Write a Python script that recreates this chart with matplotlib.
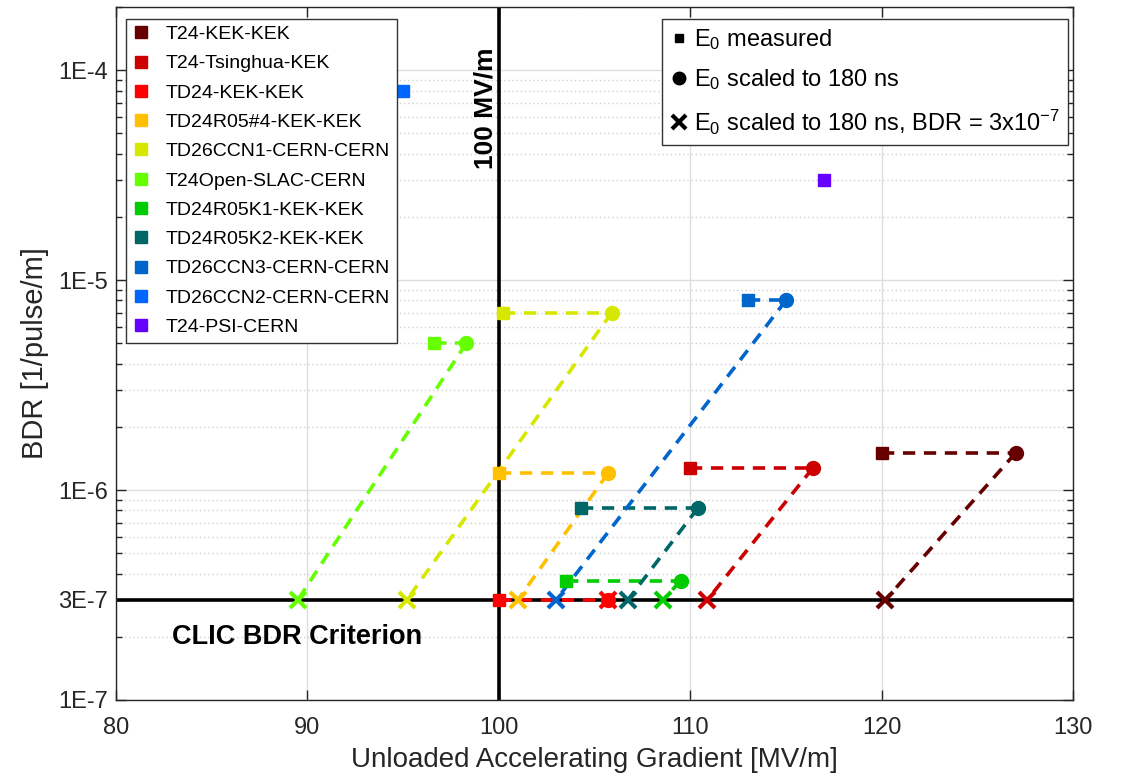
import matplotlib
matplotlib.use('Agg')
import matplotlib.pyplot as plt
from matplotlib.lines import Line2D
from matplotlib.ticker import FixedLocator, LogLocator, NullFormatter

plt.rcParams['font.family'] = ['Liberation Sans', 'DejaVu Sans']
plt.rcParams['mathtext.default'] = 'regular'

# structures, in legend order
names = ['T24-KEK-KEK', 'T24-Tsinghua-KEK', 'TD24-KEK-KEK', 'TD24R05#4-KEK-KEK',
         'TD26CCN1-CERN-CERN', 'T24Open-SLAC-CERN', 'TD24R05K1-KEK-KEK',
         'TD24R05K2-KEK-KEK', 'TD26CCN3-CERN-CERN', 'TD26CCN2-CERN-CERN',
         'T24-PSI-CERN']
colors = ['#660000', '#cc0000', '#ff0000', '#ffc000', '#d6e800', '#66ff00',
          '#00cc00', '#006666', '#0066cc', '#0066ff', '#6600ff']

# E0 measured [MV/m] and measured BDR [1/pulse/m]
e_meas = [120.0, 110.0, 100.0, 100.0, 100.2, 96.6, 103.5, 104.3, 113.0, 95.0, 117.0]
bdr_meas = [1.5e-6, 1.27e-6, 3e-7, 1.2e-6, 7.0e-6, 5.0e-6, 3.7e-7, 8.2e-7, 8.0e-6, 8.0e-5, 3.0e-5]
# E0 scaled to 180 ns (None = not available)
e_scaled = [127.0, 116.4, 105.7, 105.7, 105.9, 98.3, 109.5, 110.4, 115.0, None, None]
# E0 scaled to 180 ns at BDR = 3e-7
e_crit = [120.2, 110.9, 105.7, 101.0, 95.2, 89.5, 108.6, 106.75, 103.0, None, None]
bdr_crit = 3e-7

fig = plt.figure(figsize=(11.24, 7.76), dpi=100)
ax = fig.add_axes([0.1032, 0.098, 0.8514, 0.893])

ax.set_xscale('linear')
ax.set_yscale('log')
ax.set_xlim(80, 130)
ax.set_ylim(1e-7, 2e-4)

ax.grid(True, which='major', color='#dedede', lw=1, ls='-')
ax.grid(True, which='minor', axis='y', color='#cfcfcf', lw=1, ls=(0, (1, 2)))
ax.set_axisbelow(True)

ax.axhline(bdr_crit, color='black', lw=2.6, zorder=2)
ax.axvline(100, color='black', lw=2.6, zorder=2)

handles = []
for i, name in enumerate(names):
  c = colors[i]
  if e_scaled[i] is not None:
    ax.plot([e_meas[i], e_scaled[i]], [bdr_meas[i], bdr_meas[i]], ls=(0, (3.4, 2.4)), color=c, lw=2.6, zorder=3)
    ax.plot([e_scaled[i], e_crit[i]], [bdr_meas[i], bdr_crit], ls=(0, (3.4, 2.4)), color=c, lw=2.6, zorder=3)
    ax.plot(e_scaled[i], bdr_meas[i], 'o', color=c, ms=10, zorder=4)
    ax.plot(e_crit[i], bdr_crit, 'x', color=c, ms=11, mew=3, zorder=4)
  ax.plot(e_meas[i], bdr_meas[i], 's', color=c, ms=8.5, zorder=4)
  handles.append(Line2D([], [], ls='none', marker='s', color=c, ms=8, label=name))

leg1 = ax.legend(handles=handles, loc='upper left', bbox_to_anchor=(0.0104, 0.983),
                 fontsize=14, frameon=True, fancybox=False, edgecolor='#333333',
                 framealpha=1, labelspacing=0.6, handlelength=0.8, handletextpad=0.9,
                 borderpad=0.35, borderaxespad=0)
leg1.get_frame().set_linewidth(1)
ax.add_artist(leg1)

kind = [Line2D([], [], ls='none', marker='s', color='black', ms=6, label='E$_0$ measured'),
        Line2D([], [], ls='none', marker='o', color='black', ms=9, label='E$_0$ scaled to 180 ns'),
        Line2D([], [], ls='none', marker='x', color='black', ms=10, mew=3,
               label='E$_0$ scaled to 180 ns, BDR = 3x10$^{-7}$')]
leg2 = ax.legend(handles=kind, loc='upper right', bbox_to_anchor=(0.995, 0.983),
                 fontsize=17, frameon=True, fancybox=False, edgecolor='#333333',
                 framealpha=1, labelspacing=0.65, handlelength=0.7, handletextpad=0.3,
                 borderpad=0.35, borderaxespad=0)
leg2.get_frame().set_linewidth(1)

ax.text(99.3, 6.6e-5, '100 MV/m', rotation=90, fontsize=19, fontweight='bold',
        ha='center', va='center')
ax.text(82.9, 2.0e-7, 'CLIC BDR Criterion', fontsize=19.5, fontweight='bold',
        ha='left', va='center')

ax.yaxis.set_major_locator(FixedLocator([1e-7, 3e-7, 1e-6, 1e-5, 1e-4]))
ax.set_yticklabels(['1E-7', '3E-7', '1E-6', '1E-5', '1E-4'])
ax.yaxis.set_minor_locator(LogLocator(base=10, subs=range(2, 10), numticks=20))
ax.yaxis.set_minor_formatter(NullFormatter())
ax.set_xticks([80, 90, 100, 110, 120, 130])

ax.tick_params(which='both', direction='in', top=True, right=True, labelsize=17,
               colors='#262626')
ax.tick_params(which='major', length=7, width=1)
ax.tick_params(which='minor', length=4, width=1)
ax.tick_params(axis='x', pad=12)
ax.tick_params(axis='y', pad=6)
for s in ax.spines.values():
  s.set_color('#262626')
  s.set_linewidth(1)

ax.set_xlabel('Unloaded Accelerating Gradient [MV/m]', fontsize=20, color='#262626', labelpad=6)
ax.set_ylabel('BDR [1/pulse/m]', fontsize=21, color='#262626', labelpad=6)

fig.savefig('out.png', dpi=100)
